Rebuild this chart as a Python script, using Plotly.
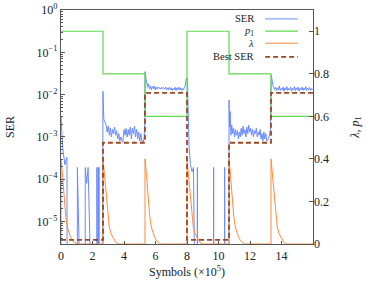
import plotly.graph_objects as go

# ---------------- data (x in units of 1e5 symbols) ----------------
seg_starts = [0.0, 2.667, 5.333, 8.0, 10.667, 13.333, 16.0]
p1_levels = [1.0, 0.8, 0.6, 1.0, 0.8, 0.6, 0.6]
best_ser_levels = [3.7e-6, 7.3e-4, 1.1e-2, 3.7e-6, 7.3e-4, 1.1e-2, 1.1e-2]

# lambda profile after every change point (offset, value)
lam_offsets = [0.0, 0.0, 0.1, 0.2, 0.3, 0.4, 0.5, 0.6, 0.7, 0.8, 0.9, 1.0]
lam_values = [0.0, 0.40, 0.32, 0.21, 0.13, 0.08, 0.05, 0.034, 0.02, 0.01, 0.004, 0.0]

ser_x = [
    0.00, 0.03, 0.07, 0.12, 0.18, 0.25, 0.33, 0.38, 0.40,
    1.03, 1.04, 1.05,
    1.53, 1.54, 1.63, 1.72, 1.73,
    2.27, 2.28, 2.30, 2.32, 2.34, 2.36, 2.38, 2.40, 2.42, 2.43,
    2.64, 2.66, 2.72, 2.80, 2.87, 2.93, 3.00, 3.07, 3.13, 3.20, 3.27, 3.33, 3.40,
    3.47, 3.53, 3.60, 3.67, 3.73, 3.80, 3.87, 3.93, 4.00, 4.07, 4.13, 4.20, 4.27,
    4.33, 4.40, 4.47, 4.53, 4.60, 4.67, 4.73, 4.80, 4.87, 4.93, 5.00, 5.07, 5.13,
    5.20, 5.27, 5.31,
    5.34, 5.38, 5.44, 5.50, 5.55, 5.62, 5.68, 5.74, 5.80, 5.86, 5.92, 5.98, 6.04,
    6.10, 6.16, 6.22, 6.28, 6.34, 6.40, 6.46, 6.52, 6.58, 6.64, 6.70, 6.76, 6.82,
    6.88, 6.94, 7.00, 7.06, 7.12, 7.18, 7.24, 7.30, 7.36, 7.42, 7.48, 7.54, 7.60,
    7.66, 7.72, 7.78, 7.84, 7.90, 7.95, 8.03,
    8.07, 8.13, 8.22, 8.32, 8.41, 8.42,
    8.65, 8.66, 8.67, 9.68, 9.69, 9.70, 10.38, 10.39, 10.40, 10.65,
    10.67, 10.70, 10.74, 10.79, 10.84, 10.90, 10.96, 11.02, 11.08, 11.14, 11.20,
    11.26, 11.32, 11.38, 11.44, 11.50, 11.56, 11.62, 11.68, 11.74, 11.80, 11.86,
    11.92, 11.98, 12.04, 12.10, 12.16, 12.22, 12.28, 12.34, 12.40, 12.46, 12.52,
    12.58, 12.64, 12.70, 12.76, 12.82, 12.88, 12.94, 13.00, 13.06, 13.12, 13.18,
    13.26, 13.30,
    13.35, 13.40, 13.45, 13.50, 13.56, 13.62, 13.68, 13.74, 13.80, 13.86, 13.92,
    13.98, 14.04, 14.10, 14.16, 14.22, 14.28, 14.34, 14.40, 14.46, 14.52, 14.58,
    14.64, 14.70, 14.76, 14.82, 14.88, 14.94, 15.00, 15.06, 15.12, 15.18, 15.24,
    15.30, 15.36, 15.42, 15.48, 15.54, 15.60, 15.66, 15.72, 15.78, 15.84, 15.90,
    15.96, 16.00,
]
ser_y = [
    3.0e-3, 1.2e-3, 1.0e-3, 5e-4, 3e-4, 2.2e-4, 3.0e-4, 3.3e-4, 0,
    0, 1.9e-4, 0,
    0, 1.9e-4, 8e-5, 1.9e-4, 0,
    0, 1.9e-4, 0, 1.9e-4, 0, 1.9e-4, 0, 1.9e-4, 1.9e-4, 0,
    0, 1.2e-2, 2.6e-3, 2.2e-3, 1.9e-3, 1.3e-3, 1.8e-3, 1.1e-3, 1.6e-3, 1.0e-3,
    1.5e-3, 1.2e-3, 1.7e-3, 1.1e-3, 1.4e-3, 9e-4, 1.2e-3, 8e-4, 1.0e-3, 8e-4,
    7.5e-4, 1.5e-3, 1.1e-3, 1.6e-3, 1.0e-3, 1.5e-3, 1.1e-3, 1.7e-3, 9e-4, 1.6e-3,
    1.2e-3, 1.8e-3, 1.0e-3, 1.5e-3, 9e-4, 1.3e-3, 8e-4, 1.2e-3, 8e-4, 7.5e-4,
    9e-4, 1.6e-3,
    3.5e-2, 2.6e-2, 1.9e-2, 1.5e-2, 1.8e-2, 1.35e-2, 1.6e-2, 1.3e-2, 1.55e-2,
    1.4e-2, 1.6e-2, 1.3e-2, 1.5e-2, 1.35e-2, 1.5e-2, 1.4e-2, 1.45e-2, 1.35e-2,
    1.5e-2, 1.4e-2, 1.45e-2, 1.35e-2, 1.5e-2, 1.3e-2, 1.45e-2, 1.3e-2, 1.5e-2,
    1.3e-2, 1.45e-2, 1.25e-2, 1.4e-2, 1.3e-2, 1.5e-2, 1.25e-2, 1.45e-2, 1.3e-2,
    1.5e-2, 1.3e-2, 1.45e-2, 1.25e-2, 1.4e-2, 1.3e-2, 1.5e-2, 1.7e-2, 2.4e-2,
    2.4e-2,
    5e-3, 6e-4, 2.2e-4, 1.5e-4, 1.9e-4, 0,
    0, 1.9e-4, 0, 0, 1.9e-4, 0, 0, 1.9e-4, 0, 0,
    7.4e-3, 1.7e-3, 4.0e-3, 1.1e-3, 1.9e-3, 1.2e-3, 1.6e-3, 1.0e-3, 1.5e-3,
    1.1e-3, 1.4e-3, 9e-4, 1.3e-3, 1.0e-3, 1.6e-3, 1.1e-3, 1.8e-3, 1.2e-3, 1.5e-3,
    1.0e-3, 1.7e-3, 1.2e-3, 1.9e-3, 1.3e-3, 1.6e-3, 1.1e-3, 1.5e-3, 1.0e-3,
    1.4e-3, 1.2e-3, 1.6e-3, 1.0e-3, 1.3e-3, 1.1e-3, 1.5e-3, 9e-4, 1.2e-3, 8e-4,
    1.3e-3, 9e-4, 1.2e-3, 8e-4, 8.5e-4, 9e-4, 1.3e-3, 1.5e-3,
    2.9e-2, 2.0e-2, 1.7e-2, 1.55e-2, 1.3e-2, 1.5e-2, 1.25e-2, 1.45e-2, 1.3e-2,
    1.6e-2, 1.25e-2, 1.4e-2, 1.3e-2, 1.5e-2, 1.2e-2, 1.45e-2, 1.3e-2, 1.55e-2,
    1.25e-2, 1.4e-2, 1.3e-2, 1.5e-2, 1.2e-2, 1.4e-2, 1.3e-2, 1.55e-2, 1.25e-2,
    1.45e-2, 1.3e-2, 1.5e-2, 1.2e-2, 1.4e-2, 1.3e-2, 1.5e-2, 1.25e-2, 1.45e-2,
    1.3e-2, 1.55e-2, 1.25e-2, 1.4e-2, 1.3e-2, 1.5e-2, 1.25e-2, 1.4e-2, 1.35e-2,
    1.4e-2,
]

x_ticks = [0, 2, 4, 6, 8, 10, 12, 14]
y_ticks = [1, 1e-1, 1e-2, 1e-3, 1e-4, 1e-5]
y_ticktext = ["10<sup>0</sup>", "10<sup>−1</sup>", "10<sup>−2</sup>",
              "10<sup>−3</sup>", "10<sup>−4</sup>", "10<sup>−5</sup>"]
y2_ticks = [0, 0.2, 0.4, 0.6, 0.8, 1.0]
y2_ticktext = ["0", "0.2", "0.4", "0.6", "0.8", "1"]
legend_names = ["SER", "<i>p</i><sub>1</sub>", "<i>λ</i>", "Best SER"]

# ---------------- build plotting arrays ----------------
ZERO_FLOOR = 1e-12  # zero SER plotted off the bottom of the log axis
ser_plot = [v if v > 0 else ZERO_FLOOR for v in ser_y]

lam_x, lam_y = [], []
for s in seg_starts[:-1]:
    for o, v in zip(lam_offsets, lam_values):
        lam_x.append(s + o)
        lam_y.append(v)
lam_x.append(16.0)
lam_y.append(0.0)

C_SER = "#6a8bff"
C_P1 = "#5fd94f"
C_LAM = "#ff8a3d"
C_BEST = "#9a4724"
FONT = "Liberation Serif"

fig = go.Figure()
fig.add_trace(go.Scatter(x=ser_x, y=ser_plot, mode="lines", name=legend_names[0],
                         line=dict(color=C_SER, width=1), yaxis="y"))
fig.add_trace(go.Scatter(x=seg_starts, y=p1_levels, mode="lines", name=legend_names[1],
                         line=dict(color=C_P1, width=1.2, shape="hv"), yaxis="y2"))
fig.add_trace(go.Scatter(x=lam_x, y=lam_y, mode="lines", name=legend_names[2],
                         line=dict(color=C_LAM, width=1), yaxis="y2"))
fig.add_trace(go.Scatter(x=seg_starts, y=best_ser_levels, mode="lines", name=legend_names[3],
                         line=dict(color=C_BEST, width=1.8, shape="hv", dash="5px,3px"),
                         yaxis="y3"))

LOG_RANGE = [-5.53, 0]
frame = dict(showline=True, linecolor="#555555", linewidth=1.2)
fig.update_layout(
    width=366, height=290,
    margin=dict(l=61, r=53, t=10, b=46, autoexpand=False),
    paper_bgcolor="white", plot_bgcolor="white",
    font=dict(family=FONT, size=12, color="#222222"),
    showlegend=False,
    xaxis=dict(range=[0, 16], tickvals=x_ticks, ticks="inside", ticklen=3,
               tickcolor="#555555", showgrid=False, zeroline=False, mirror=True,
               automargin=False,
               title=dict(text="Symbols (×10<sup>5</sup>)", standoff=6,
                          font=dict(size=12)), **frame),
    yaxis=dict(type="log", range=LOG_RANGE, tickvals=y_ticks, ticktext=y_ticktext,
               ticks="inside", ticklen=4, tickcolor="#555555", showgrid=False,
               zeroline=False, mirror=True, automargin=False,
               minor=dict(ticks="inside", ticklen=2, tickcolor="#555555",
                          tickvals=[m * 10 ** e for e in range(-6, 0)
                                    for m in range(2, 10)]),
               title=dict(text="SER", standoff=19, font=dict(size=12)), **frame),
    yaxis2=dict(overlaying="y", side="right", range=[0, 1.1], tickvals=y2_ticks,
                ticktext=y2_ticktext, ticks="inside", ticklen=4, tickcolor="#555555",
                showgrid=False, zeroline=False, showline=False, automargin=False,
                title=dict(text="<i>λ</i>, <i>p</i><sub>1</sub>", standoff=22,
                           font=dict(size=12))),
    yaxis3=dict(overlaying="y", type="log", range=LOG_RANGE, visible=False),
)

# hand-made legend: text right-aligned, sample line to the right
rows_y = [0.962, 0.910, 0.858, 0.800]
styles = [dict(color=C_SER, width=1), dict(color=C_P1, width=1.2),
          dict(color=C_LAM, width=1), dict(color=C_BEST, width=1.8, dash="5px,3px")]
for name, ry, st in zip(legend_names, rows_y, styles):
    fig.add_annotation(xref="paper", yref="paper", x=0.774, y=ry, text=name,
                       showarrow=False, xanchor="right", yanchor="middle",
                       font=dict(size=10.5, family=FONT))
    fig.add_shape(type="line", xref="paper", yref="paper", x0=0.81, x1=0.94,
                  y0=ry, y1=ry, line=st)

fig.write_html("out.html",
               config={"displayModeBar": False},
               post_script="document.body.style.margin='0';"
                           "document.body.style.overflow='hidden';")
